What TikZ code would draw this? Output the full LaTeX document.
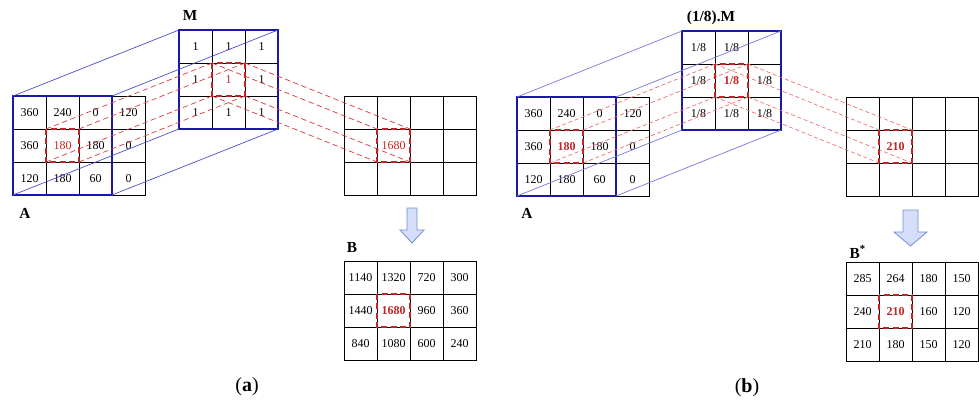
\documentclass[tikz,border=0pt]{standalone}
\usepackage{fontspec}
\setmainfont{Liberation Serif}
\usetikzlibrary{calc}

\definecolor{gridblue}{RGB}{25,25,165}
\definecolor{projblue}{RGB}{70,70,200}
\definecolor{projblueb}{RGB}{120,120,220}
\definecolor{hlred}{RGB}{195,35,35}
\definecolor{dashred}{RGB}{215,55,55}
\definecolor{dashredb}{RGB}{235,110,110}
\definecolor{arrowfill}{RGB}{212,222,248}
\definecolor{arrowline}{RGB}{120,140,215}

\tikzset{
  cell/.style={draw, line width=0.6pt, minimum width=24.75pt, minimum height=24.75pt,
    inner sep=0pt, outer sep=0pt, font=\fontsize{9}{10}\selectfont},
  outerbox/.style={draw=gridblue, line width=1.6pt},
  projline/.style={projblue, line width=0.5pt},
  projlineb/.style={projblueb, line width=0.5pt},
  hlbox/.style={draw=hlred, line width=1.7pt, dash pattern=on 4.5pt off 2.5pt},
  hlline/.style={dashred, line width=0.5pt, dash pattern=on 4pt off 2.5pt},
  hllineb/.style={dashredb, line width=0.5pt, dash pattern=on 3pt off 2pt},
  hltext/.style={text=hlred, font=\fontsize{9}{10}\selectfont},
  matlabel/.style={font=\fontsize{11.5}{13}\selectfont\bfseries},
  sublabel/.style={font=\fontsize{15}{17}\selectfont},
  downarrow/.style={fill=arrowfill, draw=arrowline, line width=0.6pt},
}

\begin{document}
\begin{tikzpicture}[x=0.75pt, y=-0.75pt]
\def\cs{33}
\useasboundingbox (0,0) rectangle (979,407);

%% panel (a)
\foreach \row [count=\r] in {{360,240,0,120},{360,{},180,0},{120,180,60,0}}
  \foreach \val [count=\c] in \row
    \node[cell] (Aa-\r-\c) at ({13+(\c-0.5)*\cs},{96+(\r-0.5)*\cs}) {\val};
\foreach \row [count=\r] in {{1,1,1},{1,{},1},{1,1,1}}
  \foreach \val [count=\c] in \row
    \node[cell] (Ma-\r-\c) at ({179+(\c-0.5)*\cs},{30+(\r-0.5)*\cs}) {\val};
\foreach \r in {1,2,3}
  \foreach \c in {1,...,4}
    \node[cell] (Ca-\r-\c) at ({344+(\c-0.5)*\cs},{96+(\r-0.5)*\cs}) {};
\foreach \row [count=\r] in {{1140,1320,720,300},{1440,{},960,360},{840,1080,600,240}}
  \foreach \val [count=\c] in \row
    \node[cell] (Ba-\r-\c) at ({344+(\c-0.5)*\cs},{261+(\r-0.5)*\cs}) {\val};

\node[hltext] at (Aa-2-2) {180};
\node[hltext] at (Ma-2-2) {1};
\node[hltext] at (Ca-2-2) {1680};
\node[hltext, font=\fontsize{9}{10}\selectfont\bfseries] at (Ba-2-2) {1680};

\draw[outerbox] (Aa-1-1.north west) rectangle (Aa-3-3.south east);
\draw[outerbox] (Ma-1-1.north west) rectangle (Ma-3-3.south east);

% projection of the window
\draw[projline] (Aa-1-1.north west) -- (Ma-1-1.north west);
\draw[projline] (Aa-1-3.north east) -- (Ma-1-3.north east);
\draw[projline] (Aa-3-1.south west) -- (Ma-3-1.south west);
\draw[projline] (Aa-3-3.south east) -- (Ma-3-3.south east);

\foreach \corner in {north west, north east, south west, south east} {
  \draw[hlline] (Aa-2-2.\corner) -- (Ma-2-2.\corner);
  \draw[hlline] (Ma-2-2.\corner) -- (Ca-2-2.\corner);
}
\foreach \grid in {Aa, Ma, Ca, Ba}
  \draw[hlbox] (\grid-2-2.north west) rectangle (\grid-2-2.south east);

\coordinate (arra) at (407,208);
\draw[downarrow] (arra) -- ++(10,0) -- ++(0,22) -- ++(7,0) -- ++(-12,13)
  -- ++(-12,-13) -- ++(7,0) -- cycle;

\node[matlabel] (labMa) at (190,15) {M};
\node[matlabel] (labAa) at (25,213) {A};
\node[matlabel] (labBa) at (352,247) {B};
\node[sublabel] (capa) at (247,387) {(\textbf{a})};

%% panel (b)
\foreach \row [count=\r] in {{360,240,0,120},{360,{},180,0},{120,180,60,0}}
  \foreach \val [count=\c] in \row
    \node[cell] (Ab-\r-\c) at ({517+(\c-0.5)*\cs},{97+(\r-0.5)*\cs}) {\val};
\foreach \row [count=\r] in {{1/8,1/8,{}},{1/8,{},1/8},{1/8,1/8,1/8}}
  \foreach \val [count=\c] in \row
    \node[cell] (Mb-\r-\c) at ({682+(\c-0.5)*\cs},{31+(\r-0.5)*\cs}) {\val};
\foreach \r in {1,2,3}
  \foreach \c in {1,...,4}
    \node[cell] (Cb-\r-\c) at ({846+(\c-0.5)*\cs},{97+(\r-0.5)*\cs}) {};
\foreach \row [count=\r] in {{285,264,180,150},{240,{},160,120},{210,180,150,120}}
  \foreach \val [count=\c] in \row
    \node[cell] (Bb-\r-\c) at ({846+(\c-0.5)*\cs},{262+(\r-0.5)*\cs}) {\val};

\foreach \grid/\val in {Ab/180, Mb/1\slash 8, Cb/210, Bb/210}
  \node[hltext, font=\fontsize{9}{10}\selectfont\bfseries] at (\grid-2-2) {\val};

\draw[outerbox] (Ab-1-1.north west) rectangle (Ab-3-3.south east);
\draw[outerbox] (Mb-1-1.north west) rectangle (Mb-3-3.south east);

\draw[projlineb] (Ab-1-1.north west) -- (Mb-1-1.north west);
\draw[projlineb] (Ab-1-3.north east) -- (Mb-1-3.north east);
\draw[projlineb] (Ab-3-1.south west) -- (Mb-3-1.south west);
\draw[projlineb] (Ab-3-3.south east) -- (Mb-3-3.south east);

\foreach \corner in {north west, north east, south west, south east} {
  \draw[hllineb] (Ab-2-2.\corner) -- (Mb-2-2.\corner);
  \draw[hllineb] (Mb-2-2.\corner) -- (Cb-2-2.\corner);
}
\foreach \grid in {Ab, Mb, Cb, Bb}
  \draw[hlbox] (\grid-2-2.north west) rectangle (\grid-2-2.south east);

\coordinate (arrb) at (903,210);
\draw[downarrow] (arrb) -- ++(15,0) -- ++(0,22) -- ++(9,0) -- ++(-16.5,14)
  -- ++(-16.5,-14) -- ++(9,0) -- cycle;

\node[matlabel] (labMb) at (711,18) {(1/8).M};
\node[matlabel] (labAb) at (527,213) {A};
\node[matlabel, anchor=west] (labBb) at (845,252) {B\textsuperscript{*}};
\node[sublabel] (capb) at (747,388) {(\textbf{b})};
\end{tikzpicture}
\end{document}
